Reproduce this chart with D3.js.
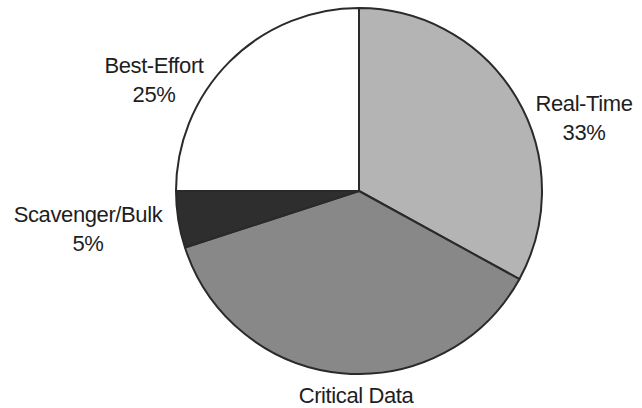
<!DOCTYPE html>
<html>
<head>
<meta charset="utf-8">
<script src="https://cdn.jsdelivr.net/npm/d3@7"></script>
<style>
  html, body { margin: 0; padding: 0; background: #fff; }
  svg { display: block; }
</style>
</head>
<body>
<div id="pie"></div>
<script>
// Data
const categories = ["Real-Time", "Critical Data", "Scavenger/Bulk", "Best-Effort"];
const shares = [33, 37, 5, 25];
const fills = ["#b4b4b4", "#888888", "#2e2e2e", "#ffffff"];

// Set dimensions
const width = 642,
    height = 408,
    cx = 359,
    cy = 191,
    radius = 183;

// Label anchor points (layout only)
const labelPos = {
    "Real-Time": [584, 111],
    "Critical Data": [356, 403],
    "Scavenger/Bulk": [88, 222],
    "Best-Effort": [154, 73]
};

const data = categories.map((c, i) => ({name: c, value: shares[i], fill: fills[i]}));

const svg = d3.select("#pie")
    .append("svg")
    .attr("width", width)
    .attr("height", height);

const g = svg.append("g")
    .attr("transform", `translate(${cx}, ${cy})`);

const pie = d3.pie()
    .sort(null)
    .value(d => d.value);

const arc = d3.arc()
    .innerRadius(0)
    .outerRadius(radius);

// Slices
g.selectAll(".slice")
    .data(pie(data))
    .enter()
    .append("path")
    .attr("class", "slice")
    .attr("d", arc)
    .attr("fill", d => d.data.fill)
    .attr("stroke", "#2a2a2a")
    .attr("stroke-width", 2)
    .attr("stroke-linejoin", "round");

// Labels
const labels = svg.selectAll(".label")
    .data(data)
    .enter()
    .append("text")
    .attr("class", "label")
    .attr("text-anchor", "middle")
    .attr("x", d => labelPos[d.name][0])
    .attr("y", d => labelPos[d.name][1])
    .style("font-family", "'Liberation Sans', Arial, Helvetica, sans-serif")
    .style("font-size", "22px")
    .style("letter-spacing", "-0.4px")
    .style("fill", "#1e1e1e");

labels.append("tspan")
    .attr("x", d => labelPos[d.name][0])
    .text(d => d.name);

labels.filter(d => d.name !== "Critical Data")
    .append("tspan")
    .attr("x", d => labelPos[d.name][0])
    .attr("dy", 29)
    .text(d => d.value + "%");
</script>
</body>
</html>
